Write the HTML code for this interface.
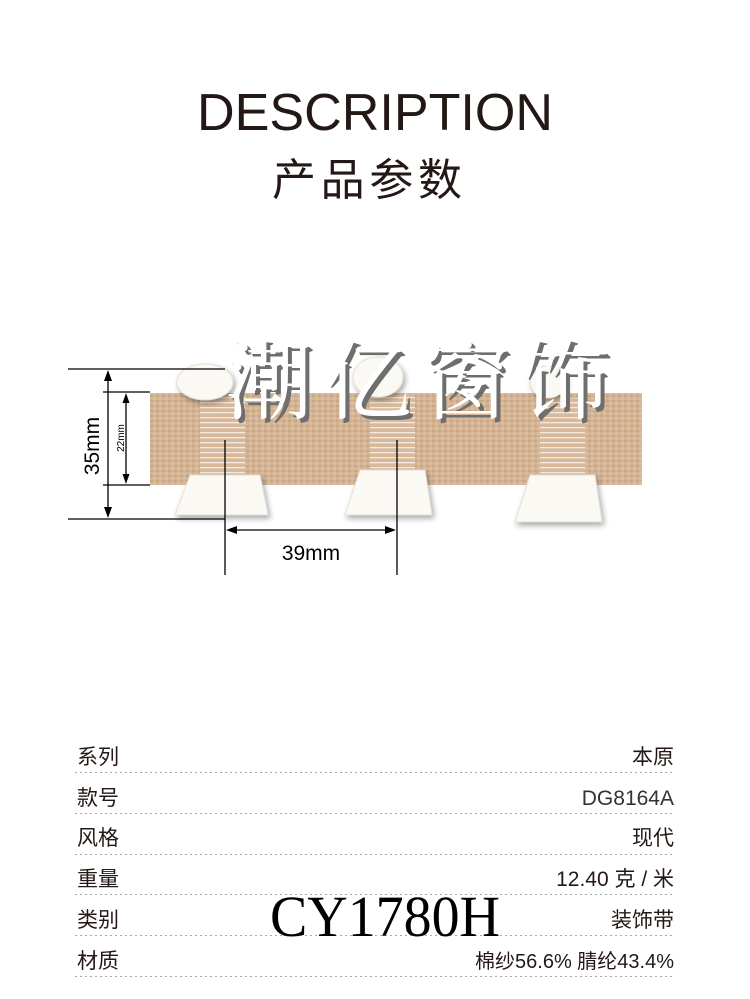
<!DOCTYPE html>
<html><head><meta charset="utf-8"><style>
html,body{margin:0;padding:0;background:#fff;}
svg{display:block}
</style></head><body>
<svg width="750" height="999" viewBox="0 0 750 999" xmlns="http://www.w3.org/2000/svg" font-family="'Liberation Sans','Noto Sans CJK SC',sans-serif">
<defs>
<pattern id="weave" width="6" height="5" patternUnits="userSpaceOnUse">
<rect width="6" height="5" fill="#d4b495"/>
<rect x="0" y="0" width="3" height="2" fill="#c9a684"/>
<rect x="3" y="2.5" width="3" height="2" fill="#dcc0a3"/>
</pattern>
<pattern id="wrap" width="10" height="5" patternUnits="userSpaceOnUse">
<rect width="10" height="5" fill="#d8b99b"/>
<rect y="2" width="10" height="1.3" fill="#f4eadf"/>
</pattern>
<filter id="sh" x="-30%" y="-30%" width="160%" height="160%">
<feGaussianBlur in="SourceAlpha" stdDeviation="3"/>
<feOffset dx="2" dy="3"/>
<feComponentTransfer><feFuncA type="linear" slope="0.35"/></feComponentTransfer>
<feMerge><feMergeNode/><feMergeNode in="SourceGraphic"/></feMerge>
</filter>
</defs>
<text x="197" y="130" font-size="52" fill="#231815" textLength="356" lengthAdjust="spacingAndGlyphs">DESCRIPTION</text>
<text x="272" y="195" font-size="44" fill="#231815" textLength="190">产品参数</text>

<rect x="150" y="393" width="492" height="92" fill="url(#weave)"/>
<rect x="200" y="395" width="45" height="88" fill="url(#wrap)"/>
<rect x="370" y="395" width="45" height="88" fill="url(#wrap)"/>
<rect x="540" y="398" width="45" height="85" fill="url(#wrap)"/>
<g fill="#fbf9f4" stroke="#e6e0d6" stroke-width="1" filter="url(#sh)">
<ellipse cx="205" cy="382" rx="28" ry="18"/>
<ellipse cx="378" cy="377" rx="25" ry="20"/>
<ellipse cx="548" cy="382" rx="18" ry="16"/>
<path d="M190 475 L260 475 L268 515 L175 515 Z"/>
<path d="M360 470 L425 470 L432 515 L345 515 Z"/>
<path d="M530 475 L595 475 L602 522 L515 522 Z"/>
</g>

<g font-family="'Liberation Serif','Noto Serif CJK SC',serif" font-size="88">
<text x="229" y="416" fill="#6e6e6e" textLength="384">潮亿窗饰</text>
<text x="225" y="412" fill="#ffffff" textLength="384">潮亿窗饰</text>
</g>

<g stroke="#000" stroke-width="1.3" fill="none">
<line x1="68" y1="369" x2="225" y2="369"/>
<line x1="68" y1="519" x2="225" y2="519"/>
<line x1="108" y1="373" x2="108" y2="515"/>
<line x1="103" y1="392" x2="150" y2="392"/>
<line x1="103" y1="485" x2="150" y2="485"/>
<line x1="126" y1="396" x2="126" y2="481"/>
<line x1="225" y1="440" x2="225" y2="575"/>
<line x1="397" y1="440" x2="397" y2="575"/>
<line x1="229" y1="530" x2="393" y2="530"/>
</g>
<g fill="#000">
<path d="M108 370 L104 381 L112 381 Z"/>
<path d="M108 518 L104 507 L112 507 Z"/>
<path d="M126 393 L122.5 403 L129.5 403 Z"/>
<path d="M126 484 L122.5 474 L129.5 474 Z"/>
<path d="M226 530 L237 526 L237 534 Z"/>
<path d="M396 530 L385 526 L385 534 Z"/>
</g>
<text transform="translate(99,446) rotate(-90)" text-anchor="middle" font-size="21" fill="#000">35mm</text>
<text transform="translate(124,438) rotate(-90)" text-anchor="middle" font-size="10" fill="#000">22mm</text>
<text x="311" y="560" text-anchor="middle" font-size="21" fill="#000">39mm</text>

<g stroke="#aaa" stroke-width="1" stroke-dasharray="2,3">
<line x1="75" y1="772.5" x2="675" y2="772.5"/>
<line x1="75" y1="813.5" x2="675" y2="813.5"/>
<line x1="75" y1="854.5" x2="675" y2="854.5"/>
<line x1="75" y1="894.5" x2="675" y2="894.5"/>
<line x1="75" y1="935.5" x2="675" y2="935.5"/>
<line x1="75" y1="976.5" x2="675" y2="976.5"/>
</g>
<g font-size="21" fill="#231815">
<text x="77" y="764">系列</text>
<text x="77" y="805">款号</text>
<text x="77" y="845">风格</text>
<text x="77" y="886">重量</text>
<text x="77" y="927">类别</text>
<text x="77" y="968">材质</text>
</g>
<g font-size="21" fill="#231815" text-anchor="end">
<text x="674" y="764">本原</text>
<text x="674" y="805" fill="#333">DG8164A</text>
<text x="674" y="845">现代</text>
<text x="674" y="886">12.40 克 / 米</text>
<text x="674" y="927">装饰带</text>
<text x="674" y="968" font-size="20">棉纱56.6% 腈纶43.4%</text>
</g>
<text x="270" y="936" font-family="'Liberation Serif',serif" font-size="58" fill="#000" textLength="230" lengthAdjust="spacingAndGlyphs">CY1780H</text>
</svg>
</body></html>
